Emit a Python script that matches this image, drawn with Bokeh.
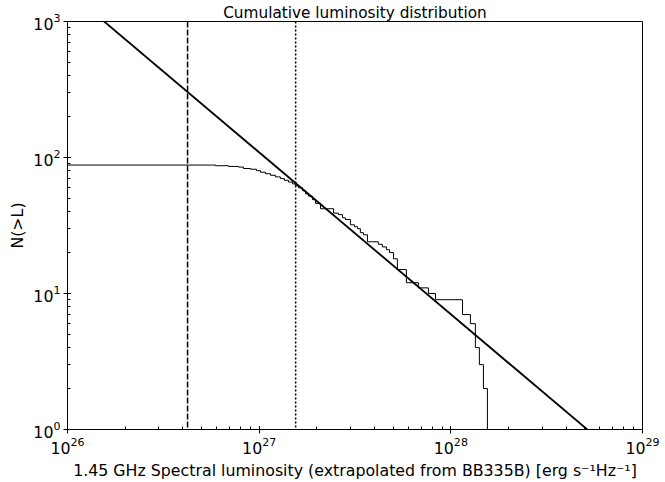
import numpy as np
from bokeh.plotting import figure
from bokeh.models import Span, LogTickFormatter, LogTicker
from bokeh.embed import file_html
from bokeh.resources import INLINE

# ---- data ----
n_total = 88                      # N(>L) below the faintest source
# luminosities (units of 1e26 erg/s/Hz) at which N(>L) drops, and level after the drop
step_lum = [5.92, 6.92, 7.80, 8.28, 9.02, 9.68, 10.16, 10.79, 11.46, 12.16,
            12.91, 13.55, 14.22, 14.93, 15.45, 16.03, 16.83, 17.46, 18.07, 18.97,
            19.68, 20.89, 24.43, 25.94, 27.23, 28.18, 29.92, 31.41, 32.58, 33.73,
            34.99, 36.73, 41.88, 43.95, 46.13, 47.86, 50.23, 52.60, 58.61, 67.76,
            76.38, 83.18, 115.1, 126.5, 134.3, 140.9, 147.9, 155.2, 161.1]
n_after = [87, 86, 85, 83, 82, 80, 78, 76, 74, 72,
           70, 68, 66, 64, 62, 60, 57, 54, 52, 49,
           46, 42, 39, 38, 36, 35, 32, 31, 30, 28,
           27, 24, 23, 22, 21, 20, 18, 15, 12, 11,
           10, 9, 7, 6, 4, 3, 2, 1, 1]
lum_unit = 1e26

# power-law fit N(>L) = fit_norm * (L / 1e27) ** fit_index
fit_norm = 109.0
fit_index = -1.19
fit_range = [1e26, 1e29]

dashed_lum = 4.23e26   # dashed vertical
dotted_lum = 1.55e27   # dotted vertical

x_lim = (1e26, 1e29)
y_lim = (1, 1e3)

# ---- figure ----
FONT = "DejaVu Sans"
FS = "15.8px"
p = figure(x_axis_type="log", y_axis_type="log", x_range=x_lim, y_range=y_lim,
           frame_width=575, frame_height=408, output_backend="svg",
           toolbar_location=None, title="Cumulative luminosity distribution",
           min_border_left=67, min_border_right=20, min_border_top=21,
           min_border_bottom=40, background_fill_color="white",
           border_fill_color="white")

p.title.align = "center"
p.title.text_font = FONT
p.title.text_font_size = "15.3px"
p.title.text_font_style = "normal"
p.title.text_color = "black"
p.title.standoff = 0
p.title.offset = 0

p.grid.visible = False
p.outline_line_color = "black"
p.outline_line_width = 1
p.outline_line_alpha = 1

for ax in (p.xaxis[0], p.yaxis[0]):
    ax.ticker = LogTicker(num_minor_ticks=10)
    ax.formatter = LogTickFormatter()
    ax.major_label_text_font = FONT
    ax.major_label_text_font_size = FS
    ax.major_label_text_color = "black"
    ax.axis_label_text_font = FONT
    ax.axis_label_text_font_size = FS
    ax.axis_label_text_font_style = "normal"
    ax.axis_label_text_color = "black"
    ax.axis_line_color = "black"
    ax.major_tick_line_color = "black"
    ax.minor_tick_line_color = "black"
    ax.major_tick_in = 0
    ax.major_tick_out = 4
    ax.minor_tick_in = 3
    ax.minor_tick_out = 0
    ax.major_label_standoff = 3

p.xaxis.axis_label = "1.45 GHz Spectral luminosity (extrapolated from BB335B) [erg s\u207b\u00b9Hz\u207b\u00b9]"
p.xaxis.axis_label_standoff = 4
p.yaxis.axis_label = "N(>L)"
p.yaxis.axis_label_standoff = 3

# step curve
xs = [x_lim[0]] + [v * lum_unit for v in step_lum]
ys = [n_total] + list(n_after)
p.step(xs, ys, mode="after", line_color="black", line_width=1)

# power-law
fx = np.array(fit_range)
fy = fit_norm * (fx / 1e27) ** fit_index
p.line(fx, fy, line_color="black", line_width=1.8)

p.add_layout(Span(location=dashed_lum, dimension="height", line_color="black",
                  line_width=1.5, line_dash="6 2"))
p.add_layout(Span(location=dotted_lum, dimension="height", line_color="black",
                  line_width=1.5, line_dash="2 2"))

open("out.html", "w").write(file_html(p, INLINE))
